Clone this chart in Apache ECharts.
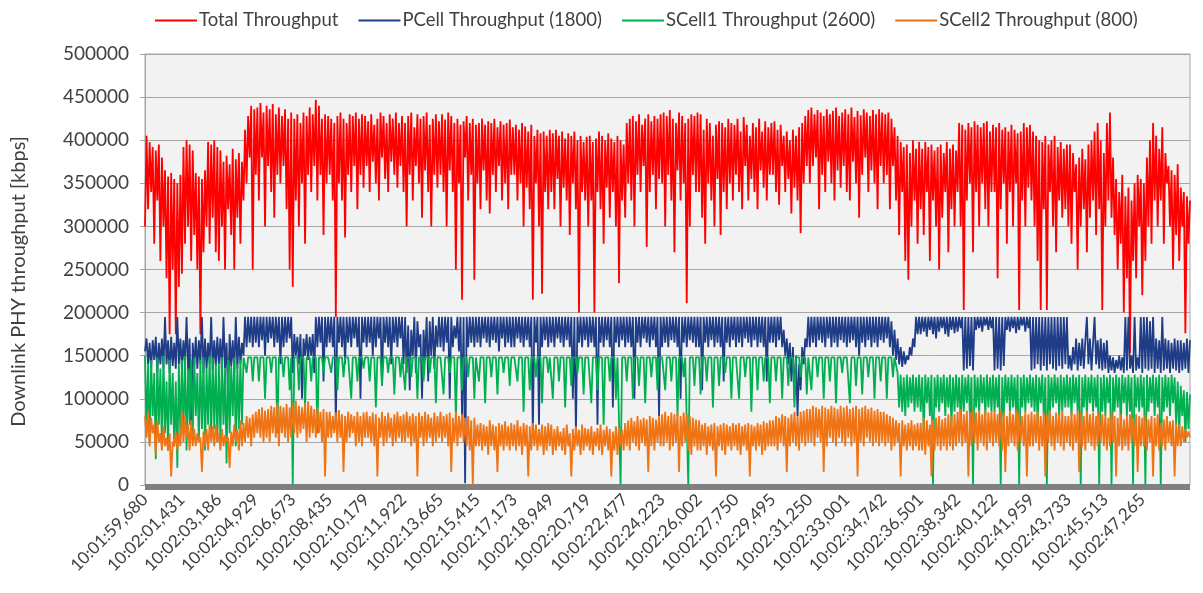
<!DOCTYPE html>
<html>
<head>
<meta charset="utf-8">
<title>Downlink PHY throughput</title>
<script src="https://cdn.jsdelivr.net/npm/echarts@6/dist/echarts.min.js"></script>
<style>
  html, body { margin: 0; padding: 0; background: #ffffff; }
  #chart { width: 1203px; height: 593px; }
</style>
</head>
<body>
<div id="chart"></div>
<script>
// Time stamps shown under the axis, one every 24 samples
const tickLabels = [
  '10:01:59,680', '10:02:01,431', '10:02:03,186', '10:02:04,929', '10:02:06,673',
  '10:02:08,435', '10:02:10,179', '10:02:11,922', '10:02:13,665', '10:02:15,415',
  '10:02:17,173', '10:02:18,949', '10:02:20,719', '10:02:22,477', '10:02:24,223',
  '10:02:26,002', '10:02:27,750', '10:02:29,495', '10:02:31,250', '10:02:33,001',
  '10:02:34,742', '10:02:36,501', '10:02:38,342', '10:02:40,122', '10:02:41,959',
  '10:02:43,733', '10:02:45,513', '10:02:47,265'
];
const samplesPerLabel = 24;

// Throughput samples in thousands of kbps, one row per labelled interval
const totalK = [
  300,405,320,398,340,392,280,388,330,395,260,380,300,365,240,358,175,362,250,355,175,350,230,360,
  245,392,280,400,300,395,260,388,290,362,250,358,175,355,270,365,300,398,280,395,310,400,270,392,
  260,388,300,375,250,382,320,372,290,390,250,378,310,385,280,375,330,412,350,428,380,440,250,436,
  360,438,330,443,380,432,300,440,370,436,340,442,310,430,360,438,350,428,370,436,320,425,250,432,
  230,425,330,430,300,420,350,432,280,428,360,438,340,430,370,447,330,440,360,425,290,430,350,428,
  360,425,330,420,195,428,350,432,330,425,287,420,360,430,340,428,370,432,320,425,360,430,345,428,
  370,422,340,430,375,418,350,425,330,432,380,428,355,420,340,430,375,425,360,432,345,420,370,428,
  340,420,300,428,360,432,330,415,370,430,350,425,310,428,365,432,340,418,300,425,360,430,345,422,
  360,430,340,424,300,432,365,428,340,420,250,425,350,418,215,422,380,428,330,420,360,425,238,418,
  350,420,320,425,365,418,330,422,315,420,360,425,340,415,370,422,330,418,350,420,320,424,360,415,
  360,418,330,412,350,420,300,416,345,410,320,418,215,405,350,412,300,408,222,410,340,405,320,412,
  340,408,320,412,355,405,300,410,345,402,330,408,290,405,350,410,320,400,200,405,340,398,330,404,
  300,405,330,398,200,402,340,410,320,405,280,400,345,408,310,402,340,398,300,405,234,400,330,395,
  310,420,350,425,330,428,300,422,360,430,340,418,370,425,276,430,340,422,360,428,320,425,355,430,
  350,432,300,428,360,435,330,425,270,420,365,432,330,428,350,420,211,425,300,430,360,428,340,432,
  340,430,310,412,280,425,350,420,330,405,300,418,355,422,290,420,340,415,320,425,350,420,330,418,
  360,425,340,410,320,427,370,418,330,405,355,420,340,415,320,425,365,410,345,422,330,415,360,420,
  360,422,340,412,325,418,370,405,340,410,355,400,315,412,345,405,330,415,292,420,350,428,370,435,
  350,438,370,430,380,435,320,432,360,428,340,436,375,430,350,434,330,438,365,428,345,432,370,436,
  340,430,330,438,375,427,350,434,310,429,360,436,380,432,340,428,365,435,350,430,320,436,370,432,
  350,430,360,432,320,425,370,415,330,405,290,398,340,392,260,395,238,385,300,400,330,390,280,398,
  320,390,290,398,340,392,260,395,330,388,300,392,250,395,310,385,340,398,270,390,320,395,300,388,
  340,420,300,418,203,412,330,420,350,415,270,422,340,418,300,415,350,420,320,422,300,410,340,418,
  340,415,240,420,320,412,350,415,280,410,340,418,300,412,350,408,203,410,330,420,300,415,345,418,
  330,410,300,405,260,400,203,398,320,405,203,395,340,400,300,405,270,392,330,398,310,390,320,395,
  300,395,280,385,340,372,250,380,300,390,320,378,270,395,310,400,330,410,290,420,320,400,203,385,
  300,420,330,432,310,380,290,355,250,340,280,360,200,335,240,345,153,330,260,350,240,360,300,355,
  220,350,260,380,300,400,280,420,330,405,300,390,330,415,280,385,350,370,300,365,250,360,290,372,
  260,345,300,340,176,335,280,330
];

const pcellK = [
  155,170,140,165,135,168,145,172,130,165,140,170,135,195,140,168,130,172,138,165,135,195,140,170,
  135,168,140,195,132,170,60,165,138,172,135,168,140,195,130,170,135,165,140,195,132,168,138,172,
  140,170,130,195,135,165,100,175,138,168,130,195,135,172,140,165,150,195,160,195,165,195,160,195,
  165,195,160,195,168,195,150,195,165,195,170,195,160,195,165,195,140,195,160,195,165,195,170,195,
  130,175,150,172,140,175,100,170,150,175,145,172,150,175,130,195,160,195,165,195,120,195,160,195,
  165,195,160,195,70,195,165,195,160,195,140,195,165,195,160,195,170,195,160,195,100,195,165,195,
  160,195,165,195,150,195,160,195,170,195,120,195,165,195,160,195,140,195,165,195,160,195,170,195,
  140,195,130,185,110,180,150,195,130,190,160,175,100,180,145,195,120,190,150,195,135,185,160,195,
  160,195,155,195,165,195,100,195,160,185,170,195,155,195,80,195,2,195,160,195,165,195,160,195,
  165,195,160,195,170,195,165,195,160,195,168,195,165,195,155,195,170,195,160,195,165,195,160,195,
  160,195,170,195,165,195,160,195,168,195,160,195,60,195,165,195,70,195,160,195,168,195,160,195,
  165,195,160,195,170,195,165,195,160,195,168,195,160,195,100,195,60,195,165,195,160,195,168,195,
  160,195,165,195,160,195,70,195,165,195,160,195,168,195,160,195,90,195,165,195,160,195,168,195,
  160,195,165,195,160,195,100,195,165,195,160,195,170,195,165,195,160,195,168,195,160,195,80,195,
  160,195,165,195,160,195,168,195,165,195,160,195,100,195,165,195,160,195,168,195,165,195,160,195,
  160,195,110,195,165,195,160,195,168,195,160,195,165,195,160,195,120,195,165,195,160,195,168,195,
  160,195,165,195,160,195,170,195,165,195,160,195,168,195,160,195,165,195,160,195,120,195,165,195,
  165,195,160,195,168,195,160,180,150,170,140,165,120,160,100,150,80,140,110,160,140,170,160,195,
  160,195,165,195,160,195,168,195,165,195,160,195,170,195,160,195,165,195,160,195,168,195,165,195,
  160,195,165,195,168,195,160,195,150,195,165,195,160,195,168,195,160,195,165,195,160,195,168,195,
  165,195,170,195,160,190,150,180,145,170,140,160,137,155,140,150,145,160,150,170,160,195,175,195,
  175,195,178,195,172,195,180,195,175,195,170,195,178,195,182,195,175,195,172,195,180,195,176,195,
  178,195,182,195,133,195,135,195,138,195,133,195,180,195,182,195,178,195,185,195,180,195,182,195,
  133,195,135,195,133,195,138,195,180,195,178,195,182,195,176,195,180,195,185,195,178,195,182,195,
  133,195,135,195,140,195,133,195,138,195,133,195,140,195,135,195,133,195,138,195,135,195,140,195,
  135,150,133,160,140,170,133,165,138,170,135,168,195,140,170,133,165,195,140,168,135,170,133,165,
  135,168,130,150,133,148,130,145,135,150,133,148,130,195,133,195,135,150,130,195,133,148,135,195,
  130,195,135,195,133,190,135,195,130,170,135,168,130,195,133,170,135,168,130,165,135,170,133,168,
  130,168,133,165,135,170,130,168
];

const scell1K = [
  150,60,140,50,145,80,130,30,148,70,135,45,150,60,120,40,145,70,130,45,120,20,140,55,
  145,60,150,40,135,70,145,55,148,80,130,50,145,65,148,40,135,70,150,55,148,65,140,50,
  140,50,148,70,135,25,145,60,138,80,148,45,140,65,145,70,148,148,130,148,148,148,120,148,
  148,148,120,148,148,148,100,148,148,148,130,148,148,148,60,148,148,148,125,148,148,148,110,148,
  0,148,148,148,110,148,148,148,90,148,148,148,120,148,148,148,60,148,148,148,130,148,148,148,
  148,130,148,148,148,110,148,148,148,125,148,148,148,148,100,148,148,148,120,148,148,148,135,148,
  148,148,120,148,148,148,90,148,148,148,115,148,148,148,130,148,148,148,105,148,148,148,125,148,
  148,110,148,148,148,125,148,148,148,100,148,148,148,120,148,148,148,130,148,148,148,95,148,148,
  148,148,105,148,148,148,130,148,148,148,80,148,148,148,110,148,148,148,125,148,148,148,100,148,
  148,120,148,148,148,95,148,148,148,125,148,148,148,105,148,148,148,130,148,148,148,115,148,148,
  148,148,120,148,148,148,85,148,148,148,110,148,148,148,125,148,148,148,95,148,148,148,130,148,
  148,100,148,148,148,120,148,148,148,90,148,148,148,115,148,148,148,130,148,148,148,105,148,148,
  148,148,95,148,148,148,110,148,148,148,70,148,148,148,120,148,148,148,100,148,148,0,148,148,
  148,120,148,148,148,100,148,148,148,115,148,148,148,95,148,148,148,125,148,148,148,110,148,148,
  148,148,110,148,148,148,120,148,148,148,80,148,148,148,125,148,148,0,148,148,148,115,148,148,
  148,105,148,148,148,120,148,148,148,90,148,148,148,115,148,148,148,130,148,148,148,100,148,148,
  148,148,100,148,148,148,125,148,148,148,85,148,148,148,110,148,148,148,120,148,148,148,95,148,
  148,148,120,148,148,148,100,148,148,148,115,148,148,148,90,148,148,148,125,148,148,148,105,148,
  148,110,148,148,148,125,148,148,148,100,148,148,148,120,148,148,148,95,148,148,148,130,148,148,
  148,148,95,148,148,148,115,148,148,148,105,148,148,148,125,148,148,148,100,148,148,148,120,148,
  148,148,100,148,148,148,125,148,148,130,90,128,85,125,80,128,90,125,95,128,85,125,90,128,
  85,125,60,128,95,125,80,128,0,125,90,128,85,125,95,128,80,125,90,128,70,125,85,128,
  90,125,70,128,85,125,95,128,80,125,0,128,90,125,85,128,95,125,80,128,90,125,85,128,
  85,125,90,128,0,125,80,128,95,125,85,128,90,125,80,128,0,125,90,128,85,125,95,128,
  90,125,85,128,70,125,95,128,80,125,0,128,85,125,90,128,95,125,80,128,85,125,90,128,
  90,125,80,128,95,125,85,128,0,125,90,128,80,125,95,128,85,125,90,128,0,125,85,128,
  80,125,95,128,0,125,85,128,90,125,70,128,95,125,80,128,85,125,0,128,90,125,85,128,
  90,125,0,128,85,125,95,128,80,125,90,128,0,125,85,128,90,125,80,128,95,125,70,120,
  60,115,80,110,50,108,65,105
];

const scell2K = [
  80,55,85,45,78,60,70,35,75,50,60,40,68,45,55,40,60,10,50,45,62,40,60,45,
  85,50,80,55,70,40,75,45,65,45,60,50,55,15,62,45,65,40,70,50,68,45,70,50,
  60,40,65,45,58,50,55,20,62,45,70,50,65,40,75,45,72,50,80,55,78,45,82,55,
  85,60,88,55,90,50,86,55,88,50,92,60,90,55,95,45,92,60,90,55,94,50,90,55,
  95,60,98,55,92,60,90,65,95,50,97,55,92,60,88,55,90,60,85,50,88,10,85,55,
  85,55,80,60,84,50,87,55,82,15,80,50,85,55,82,60,80,45,85,50,80,45,84,55,
  85,55,80,50,84,45,82,10,78,55,85,45,80,50,84,55,78,45,82,50,85,55,80,50,
  82,50,85,55,80,45,83,50,80,10,84,55,80,45,85,50,82,55,78,45,84,50,80,55,
  85,50,80,55,82,45,84,15,78,50,85,45,80,55,82,50,78,45,80,40,75,0,78,45,
  70,45,72,40,70,45,68,35,75,45,70,40,68,15,72,45,70,40,74,45,68,40,72,45,
  70,40,75,45,68,35,72,45,70,10,68,40,72,45,70,40,65,45,70,35,68,40,72,45,
  70,35,65,40,68,45,62,40,66,35,70,45,60,10,65,40,68,45,64,35,70,40,66,45,
  65,40,68,35,62,45,66,40,70,35,64,45,68,40,65,10,62,40,68,35,66,45,64,40,
  72,45,75,40,78,50,74,45,80,40,76,50,78,45,76,15,80,45,78,40,76,50,80,45,
  82,45,85,50,80,40,84,45,82,50,85,15,80,45,84,50,82,40,80,35,78,45,76,40,
  75,40,70,45,72,35,68,45,70,40,72,10,68,45,70,40,72,35,70,45,68,40,72,45,
  70,40,72,35,68,45,70,40,72,10,70,45,68,40,72,45,70,35,74,40,72,45,75,45,
  75,45,80,40,78,50,82,45,80,15,78,45,82,50,85,45,80,40,85,50,86,45,88,50,
  88,50,92,45,90,55,88,50,92,15,90,45,88,55,92,50,90,45,88,55,92,50,90,45,
  92,55,88,45,90,50,92,10,88,50,90,45,92,55,88,50,90,45,86,50,88,45,85,50,
  85,45,82,50,80,40,78,45,75,50,72,10,75,45,70,40,72,45,75,40,70,45,72,40,
  72,40,78,35,75,45,70,10,76,40,78,45,80,40,76,45,78,40,82,45,80,40,82,45,
  85,50,88,45,82,50,86,10,84,45,88,50,84,40,86,50,82,45,88,40,84,50,86,45,
  86,50,82,45,88,40,84,15,80,45,86,50,82,45,88,40,84,50,80,45,86,10,82,45,
  85,45,82,50,86,40,80,45,84,10,82,50,86,45,80,40,84,50,82,45,86,40,80,50,
  80,45,85,40,82,50,86,15,84,45,80,40,86,50,82,45,84,40,80,45,85,50,82,45,
  82,40,78,45,85,50,80,10,78,45,82,40,76,45,80,40,82,50,78,45,82,15,80,45,
  78,45,82,40,76,50,80,10,78,45,82,40,72,45,76,40,80,50,74,45,75,10,72,45,
  70,45,68,50,65,55,62,55
];

const seriesNames = [
  'Total Throughput',
  'PCell Throughput (1800)',
  'SCell1 Throughput (2600)',
  'SCell2 Throughput (800)'
];
const seriesColors = ['#ff0000', '#1f3d87', '#00b050', '#f07314'];
const KBPS_PER_UNIT = 1000;

// One category per sample; only every 24th one carries a time stamp
const categories = totalK.map((_, i) =>
  i % samplesPerLabel === 0 ? (tickLabels[i / samplesPerLabel] || '') : ''
);

const toKbps = arr => arr.map(v => v * KBPS_PER_UNIT);
const seriesData = [toKbps(totalK), toKbps(pcellK), toKbps(scell1K), toKbps(scell2K)];

const FONT = 'Lato, "Open Sans", sans-serif';
const TEXT = '#404040';

const chart = echarts.init(document.getElementById('chart'), null, { renderer: 'canvas' });

chart.setOption({
  animation: false,
  backgroundColor: '#ffffff',
  textStyle: { fontFamily: FONT },
  legend: {
    top: 6,
    left: 150,
    icon: 'rect',
    itemWidth: 42,
    itemHeight: 2,
    itemGap: 20,
    textStyle: { fontFamily: FONT, fontSize: 18.5, color: TEXT, padding: [0, 0, 0, -3] },
    data: seriesNames
  },
  grid: {
    left: 145,
    right: 13,
    top: 54,
    bottom: 108,
    show: true,
    backgroundColor: '#f2f2f2',
    borderColor: '#a6a6a6',
    borderWidth: 1
  },
  xAxis: {
    type: 'category',
    data: categories,
    boundaryGap: false,
    offset: 2,
    axisLine: { show: true, onZero: false, lineStyle: { color: '#808080', width: 6, cap: 'butt' } },
    axisTick: { show: false },
    splitLine: { show: false },
    axisLabel: {
      interval: samplesPerLabel - 1,
      rotate: 45,
      margin: 10,
      fontFamily: FONT,
      fontSize: 17,
      color: TEXT
    }
  },
  yAxis: {
    type: 'value',
    min: 0,
    max: 500000,
    interval: 50000,
    name: 'Downlink PHY throughput [kbps]',
    nameLocation: 'middle',
    nameGap: 116,
    nameRotate: 90,
    nameTextStyle: { fontFamily: FONT, fontSize: 20, color: TEXT, padding: [0, 24, 0, 0] },
    axisLine: { show: true, lineStyle: { color: '#a6a6a6', width: 1 } },
    axisTick: { show: true, length: 5, inside: false, lineStyle: { color: '#a6a6a6' } },
    axisLabel: {
      margin: 16,
      fontFamily: FONT,
      fontSize: 19,
      color: TEXT,
      formatter: v => String(v)
    },
    splitLine: { show: true, lineStyle: { color: '#a6a6a6', width: 1 } }
  },
  series: seriesNames.map((name, k) => ({
    name,
    type: 'line',
    data: seriesData[k],
    symbol: 'none',
    showSymbol: false,
    sampling: null,
    color: seriesColors[k],
    lineStyle: { width: 1.8, color: seriesColors[k] },
    z: 2 + k
  }))
});
</script>
</body>
</html>
